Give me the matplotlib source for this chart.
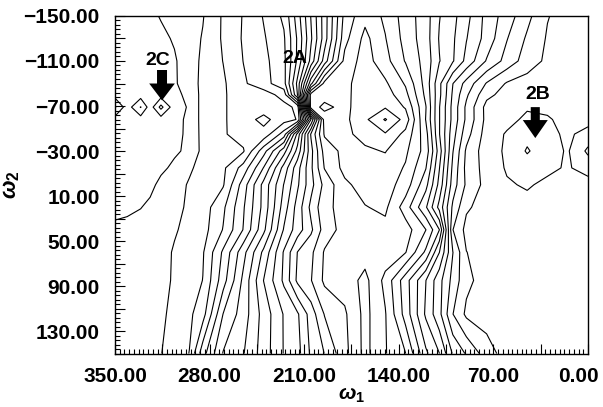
import numpy as np
import matplotlib
matplotlib.use("Agg")
import matplotlib.pyplot as plt
import matplotlib.transforms as mtransforms
from matplotlib.ticker import FixedLocator, FuncFormatter

# ---------------- data ----------------
# torsion angle grid nodes (degrees)
omega1 = [350, 341, 331, 324, 316, 306, 295, 285, 270, 255, 240, 225, 215, 205, 195,
          180, 165, 150, 135, 120, 110, 100, 90, 75, 60, 45, 30, 15, 0]
omega2 = [-150, -130, -110, -90, -80, -69, -58, -45, -30, -15, 0, 20, 40, 60, 85, 115, 150]

# relative energy at the nodes, one list per omega2 row (columns follow omega1)
row_m150 = [0.4, 0.5, 0.6, 0.8, 1.06, 1.34, 1.66, 1.94, 3.13, 4.07, 5.07, 6.2, 8.5, 11.05, 13.5,
            17.33, 18.7, 17.8, 16.53, 15.46, 14.05, 13.29, 12.33, 10.67, 9.5, 8.29, 7.05, 6.6, 6.5]
row_m130 = [0.35, 0.45, 0.55, 0.65, 0.8, 1.09, 1.59, 2.07, 3.13, 4.11, 4.89, 5.87, 8.13, 10.84, 13.5,
            17.67, 19.3, 18.05, 16.64, 15.45, 13.92, 13.15, 12.05, 10.62, 9.05, 7.85, 6.9, 6.6, 6.5]
row_m110 = [0.3, 0.4, 0.5, 0.6, 0.72, 0.9, 1.5, 2.21, 3.02, 4.02, 4.71, 5.75, 8.19, 11.35, 14.47,
            18.33, 19.45, 18.36, 16.92, 15.6, 14.05, 13.09, 11.71, 9.91, 8.62, 7.5, 6.8, 6.55, 6.5]
row_m90 = [0.25, 0.35, 0.45, 0.55, 0.7, 0.88, 1.5, 2.27, 2.85, 3.85, 4.62, 5.64, 9.27, 14.72, 18.35,
           18.7, 19.6, 19.17, 17.88, 15.6, 13.25, 11.02, 9.63, 7.92, 6.9, 6.6, 6.5, 6.5, 6.5]
row_m80 = [0.4, 0.5, 0.45, 0.5, 0.45, 0.9, 1.1, 2.4, 2.9, 3.45, 3.5, 4.4, 9.0, 18.45, 18.6,
           18.7, 19.65, 19.5, 18.3, 15.75, 13.25, 10.83, 9.17, 7.27, 6.6, 6.5, 6.5, 6.5, 6.5]
row_m69 = [-1.1, 0.5, -1.05, 0.5, -1.3, 0.6, 1.1, 2.4, 2.9, 3.45, 3.5, 3.7, 4.2, 18.55, 19.25,
           18.7, 19.7, 19.9, 18.9, 16.05, 13.05, 10.67, 8.8, 6.67, 6.2, 6.1, 6.2, 6.4, 6.45]
row_m58 = [0.4, 0.5, 0.45, 0.5, 0.45, 0.85, 1.1, 2.4, 2.9, 3.45, 2.7, 3.6, 4.05, 12.0, 18.5,
           18.75, 19.8, 21.1, 19.6, 15.95, 13.05, 10.67, 8.8, 6.7, 6.3, 5.8, 5.9, 6.3, 6.4]
row_m45 = [0.35, 0.45, 0.5, 0.55, 0.6, 0.8, 1.15, 2.35, 2.9, 3.4, 3.35, 5.45, 10.3, 15.1, 18.12,
           18.8, 19.3, 19.9, 18.7, 16.4, 13.05, 10.4, 8.4, 6.55, 5.9, 5.3, 5.7, 6.2, 5.6]
row_m30 = [0.35, 0.45, 0.5, 0.55, 0.65, 0.85, 1.2, 2.3, 2.55, 2.9, 5.6, 8.6, 11.33, 14.67, 17.4,
           18.3, 18.85, 19.05, 18.19, 16.6, 13.5, 10.05, 7.83, 6.45, 5.85, 4.9, 5.6, 6.1, 4.8]
row_m15 = [0.4, 0.5, 0.55, 0.6, 0.8, 1.2, 1.85, 2.35, 2.8, 4.4, 7.05, 10.4, 12.6, 14.8, 17.05,
           18.3, 18.6, 18.6, 17.9, 16.05, 13.05, 9.75, 7.71, 6.6, 5.9, 5.5, 5.8, 6.1, 5.6]
row_0 = [0.45, 0.55, 0.6, 0.75, 1.25, 1.6, 2.1, 2.4, 2.9, 5.5, 8.33, 11.05, 12.83, 14.67, 16.29,
         17.8, 18.4, 18.45, 17.55, 15.33, 12.67, 9.5, 7.83, 6.65, 6.1, 5.9, 6.2, 6.45, 6.4]
row_20 = [0.6, 0.75, 0.97, 1.2, 1.45, 1.75, 2.15, 2.5, 3.8, 5.89, 8.33, 11.5, 13.4, 15.25, 16.7,
          17.4, 17.95, 18.2, 16.5, 14.14, 11.67, 8.8, 7.14, 6.6, 6.35, 6.3, 6.4, 6.5, 6.5]
row_40 = [1.3, 1.35, 1.4, 1.45, 1.55, 1.9, 2.3, 2.6, 4.05, 6.05, 8.75, 12.1, 13.5, 14.8, 16.44,
          17.4, 17.6, 17.7, 17.45, 16.02, 14.02, 8.02, 6.7, 6.5, 6.5, 6.5, 6.5, 6.5, 6.5]
row_60 = [1.4, 1.45, 1.5, 1.55, 1.65, 2.1, 2.4, 2.9, 5.17, 7.67, 10.25, 13.11, 15.02, 15.77, 17.1,
          17.45, 17.55, 17.6, 17.05, 14.8, 12.02, 9.02, 7.02, 6.55, 6.5, 6.5, 6.5, 6.5, 6.5]
row_85 = [1.45, 1.5, 1.55, 1.6, 1.75, 2.1, 2.4, 3.02, 5.57, 8.25, 11.02, 13.2, 15.21, 15.95, 17.2,
          17.45, 18.3, 16.71, 14.43, 12.02, 10.33, 8.67, 7.25, 6.55, 6.5, 6.5, 6.5, 6.5, 6.5]
row_115 = [1.5, 1.55, 1.6, 1.65, 1.8, 2.3, 2.8, 3.58, 7.02, 8.5, 10.4, 12.08, 12.85, 14.46, 16.05,
           16.85, 18.3, 17.07, 14.6, 11.83, 10.29, 8.02, 6.8, 6.5, 6.5, 6.5, 6.5, 6.5, 6.5]
row_150 = [1.5, 1.55, 1.65, 1.75, 1.97, 2.45, 3.02, 5.6, 8.06, 8.94, 10.48, 12.06, 12.65, 14.17, 15.02,
           16.7, 18.3, 17.07, 16.02, 13.2, 12.02, 9.89, 8.89, 7.5, 6.5, 6.5, 6.5, 6.5, 6.5]

contour_levels = list(range(-1, 22))

x_tick_labels = [350, 280, 210, 140, 70]
x_last_label = 0
y_tick_labels = [-150, -110, -70, -30, 10, 50, 90, 130]

conformer_labels = ["2A", "2B", "2C"]

# ---------------- figure ----------------
plt.rcParams["font.family"] = ["Liberation Sans", "DejaVu Sans"]
plt.rcParams["font.weight"] = "bold"
plt.rcParams["mathtext.fontset"] = "custom"
plt.rcParams["mathtext.rm"] = "Liberation Sans:bold"
plt.rcParams["mathtext.it"] = "Liberation Sans:italic:bold"
plt.rcParams["mathtext.bf"] = "Liberation Sans:bold"

fig = plt.figure(figsize=(6.03, 4.07), dpi=100)
ax = fig.add_axes([0.1907, 0.1314, 0.7844, 0.8293])

energy = np.array([row_m150, row_m130, row_m110, row_m90, row_m80, row_m69, row_m58, row_m45,
                   row_m30, row_m15, row_0, row_20, row_40, row_60, row_85, row_115, row_150])
x = np.asarray(omega1, dtype=float)[::-1]
y = np.asarray(omega2, dtype=float)
z = energy[:, ::-1]

ax.contour(x, y, z, levels=contour_levels, colors="black", linewidths=0.8,
           linestyles="solid")

ax.set_xlim(350, 0)
ax.set_ylim(150, -150)

ax.xaxis.set_major_locator(FixedLocator(np.arange(0, 351, 35)))
ax.xaxis.set_minor_locator(FixedLocator(np.arange(0, 350.01, 3.5)))
ax.yaxis.set_major_locator(FixedLocator(np.arange(-150, 151, 20)))
ax.yaxis.set_minor_locator(FixedLocator(np.arange(-150, 151, 4)))


def fmt_num(t):
    return ("%.2f" % t).replace("-", "\u2212")


def fmt_x(v, pos):
    for t in x_tick_labels:
        if abs(v - t) < 1e-6:
            return fmt_num(t)
    return ""


def fmt_y(v, pos):
    for t in y_tick_labels:
        if abs(v - t) < 1e-6:
            return fmt_num(t)
    return ""


ax.xaxis.set_major_formatter(FuncFormatter(fmt_x))
ax.yaxis.set_major_formatter(FuncFormatter(fmt_y))
ax.tick_params(which="both", direction="in", top=False, right=False, width=0.8)
ax.tick_params(which="major", length=7)
ax.tick_params(which="minor", length=3.5)
ax.tick_params(axis="x", which="major", labelsize=15, pad=10)
ax.tick_params(axis="y", which="major", labelsize=15, pad=11)
for sp in ax.spines.values():
    sp.set_linewidth(1.0)

# last x tick label, nudged left so it stays inside the picture (as in the reference)
blend = mtransforms.blended_transform_factory(ax.transData, ax.transAxes)
shift = mtransforms.ScaledTranslation(-10 / 100, -10 / 72, fig.dpi_scale_trans)
ax.text(x_last_label, 0, fmt_num(x_last_label), fontsize=15, fontweight="bold",
        ha="center", va="top", transform=blend + shift)

# axis titles
fig.text(12 / 603, 1 - 185 / 407, r"$\omega_{2}$", rotation=90, fontsize=16,
         ha="center", va="center")
fig.text(352 / 603, 2 / 407, r"$\omega_{1}$", fontsize=15, ha="center", va="bottom")

# conformer markers
ax.text(216.8, -112.5, conformer_labels[0], fontsize=14, fontweight="bold", ha="center", va="center")
ax.text(37.3, -80.5, conformer_labels[1], fontsize=14, fontweight="bold", ha="center", va="center")
ax.text(318.6, -110.5, conformer_labels[2], fontsize=14, fontweight="bold", ha="center", va="center")

ax.arrow(315.2, -102, 0, 27, width=7.4, head_width=19, head_length=15,
         length_includes_head=True, color="black", lw=0)
ax.arrow(39.0, -69, 0, 27.5, width=6.7, head_width=18.5, head_length=16,
         length_includes_head=True, color="black", lw=0)

fig.savefig("out.png", dpi=100)
